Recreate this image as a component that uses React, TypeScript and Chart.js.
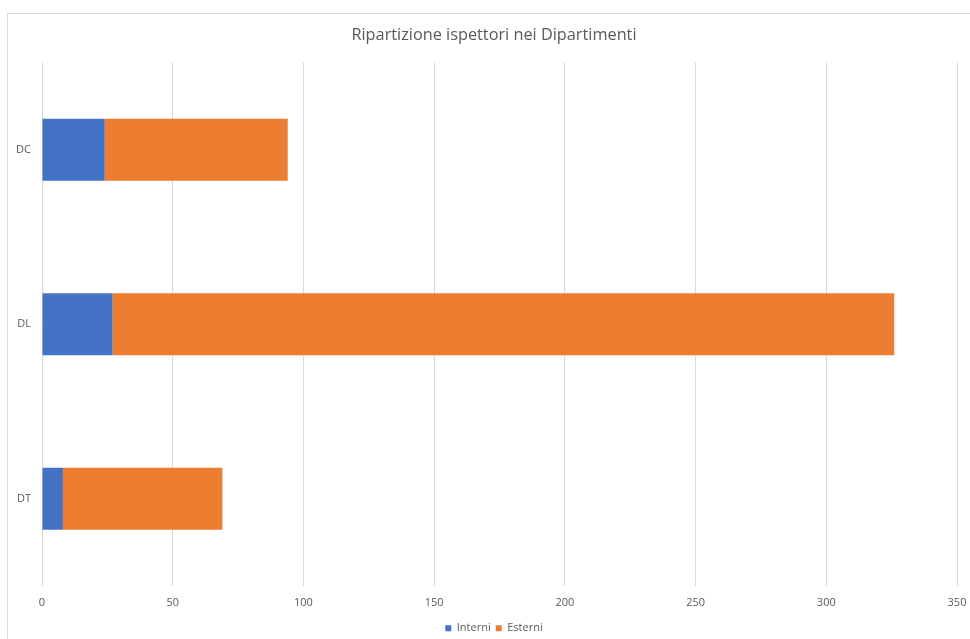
import React, { useEffect, useRef } from "react";
import { Chart, registerables } from "chart.js";

Chart.register(...registerables);

const categories = ["DC", "DL", "DT"];
const interni = [24, 27, 8];
const esterni = [70, 299, 61];
const seriesNames = ["Interni", "Esterni"];
const titleText = "Ripartizione ispettori nei Dipartimenti";

const TEXT = "#595959";
const GRID = "#D9D9D9";
const FONT = "'Open Sans', 'Liberation Sans', sans-serif";

const framePlugin = {
  id: "frame",
  beforeDraw(chart: any) {
    const ctx = chart.ctx;
    ctx.save();
    ctx.fillStyle = "#ffffff";
    ctx.fillRect(0, 0, chart.width, chart.height);
    ctx.strokeStyle = GRID;
    ctx.lineWidth = 1;
    ctx.strokeRect(7.5, 13.5, 1000, 1000);
    ctx.restore();
  },
};

export default function App() {
  const ref = useRef<HTMLCanvasElement>(null);
  useEffect(() => {
    if (!ref.current) return;
    const chart = new Chart(ref.current, {
      type: "bar",
      data: {
        labels: categories,
        datasets: [
          {
            label: seriesNames[0],
            data: interni,
            backgroundColor: "#4472C4",
            borderWidth: 0,
            barPercentage: 0.355,
            categoryPercentage: 1,
          },
          {
            label: seriesNames[1],
            data: esterni,
            backgroundColor: "#ED7D31",
            borderWidth: 0,
            barPercentage: 0.355,
            categoryPercentage: 1,
          },
        ],
      },
      options: {
        indexAxis: "y",
        animation: false,
        responsive: false,
        maintainAspectRatio: false,
        layout: { padding: { left: 0, right: -18, top: 0, bottom: -4.8 } },
        scales: {
          x: {
            stacked: true,
            min: 0,
            max: 350,
            ticks: { stepSize: 50, color: TEXT, font: { family: FONT, size: 11 }, padding: 10 },
            grid: { color: GRID, lineWidth: 1, drawTicks: false },
            border: { display: false },
            afterFit: (s: any) => {
              s.height = 31.8;
              s.paddingLeft = 0;
              s.paddingRight = 13;
            },
          },
          y: {
            stacked: true,
            ticks: { color: TEXT, font: { family: FONT, size: 11 }, padding: 11 },
            grid: { display: false, drawTicks: false },
            border: { display: false },
            afterFit: (s: any) => {
              s.width = 42;
            },
          },
        },
        plugins: {
          title: {
            display: true,
            text: titleText,
            color: TEXT,
            font: { family: FONT, size: 16.3, weight: "normal" },
            padding: { top: 25.2, bottom: 17.7 },
          },
          legend: {
            position: "bottom",
            labels: {
              boxWidth: 6,
              boxHeight: 6,
              padding: 5,
              color: TEXT,
              font: { family: FONT, size: 11 },
            },
          },
          tooltip: { enabled: false },
        },
      },
      plugins: [framePlugin],
    } as any);
    return () => chart.destroy();
  }, []);
  return (
    <div style={{ position: "absolute", left: 0, top: 0, width: 970, height: 639, background: "#fff" }}>
      <canvas ref={ref} width={970} height={639} />
    </div>
  );
}
